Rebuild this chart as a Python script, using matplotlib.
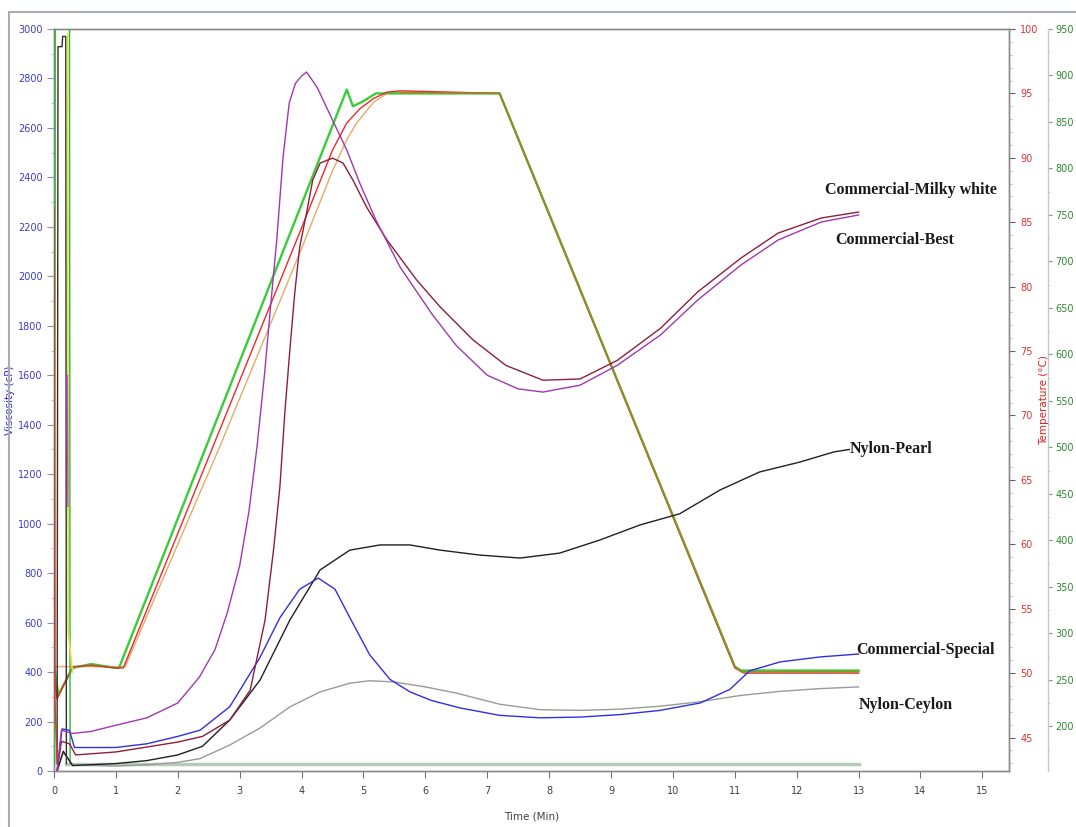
import matplotlib
matplotlib.use("Agg")
import matplotlib.pyplot as plt
from matplotlib.ticker import MultipleLocator
from matplotlib.lines import Line2D
from matplotlib import font_manager

# ---------------- data (time in min) ----------------
# Viscosity (cP)
best_t = [0.05, 0.12, 0.3, 0.6, 1.0, 1.5, 2.0, 2.35, 2.6, 2.8, 3.0, 3.15, 3.28, 3.4, 3.5, 3.6, 3.7, 3.8,
          3.9, 4.0, 4.08, 4.25, 4.5, 4.73, 4.94, 5.2, 5.59, 6.1, 6.5, 7.0, 7.5, 7.9, 8.5, 9.1, 9.8, 10.4,
          11.1, 11.7, 12.4, 13.0]
best_v = [0, 165, 152, 160, 185, 215, 275, 380, 490, 640, 830, 1050, 1311, 1600, 1880, 2150, 2480, 2700,
          2780, 2810, 2826, 2765, 2632, 2511, 2377, 2228, 2038, 1850, 1720, 1600, 1545, 1532, 1560, 1640,
          1763, 1904, 2046, 2147, 2220, 2248]

milky_t = [0.05, 0.12, 0.25, 0.35, 1.0, 1.5, 2.0, 2.4, 2.84, 3.17, 3.41, 3.55, 3.65, 3.73, 3.81, 3.89,
           3.97, 4.08, 4.18, 4.3, 4.5, 4.67, 4.83, 5.05, 5.38, 5.86, 6.24, 6.77, 7.3, 7.9, 8.5, 9.1, 9.8,
           10.4, 11.1, 11.7, 12.4, 13.0]
milky_v = [0, 120, 110, 65, 77, 97, 117, 140, 206, 327, 610, 900, 1150, 1450, 1700, 1933, 2119, 2256,
           2389, 2458, 2478, 2458, 2389, 2280, 2147, 1985, 1876, 1743, 1640, 1580, 1585, 1660, 1790, 1937,
           2074, 2175, 2236, 2260]

pearl_t = [0.05, 0.15, 0.3, 1.0, 1.5, 2.0, 2.4, 2.84, 3.33, 3.81, 4.3, 4.78, 5.27, 5.75, 6.24, 6.88, 7.53,
           8.17, 8.82, 9.47, 10.11, 10.76, 11.4, 12.05, 12.6, 12.85]
pearl_v = [0, 80, 22, 30, 42, 65, 100, 206, 368, 610, 813, 893, 914, 914, 893, 873, 861, 881, 934, 995,
           1040, 1136, 1209, 1249, 1290, 1300]

special_t = [0.05, 0.13, 0.25, 0.33, 1.0, 1.5, 2.0, 2.36, 2.84, 3.33, 3.65, 3.97, 4.27, 4.54, 4.78, 5.1,
             5.43, 5.75, 6.1, 6.56, 7.2, 7.85, 8.5, 9.14, 9.79, 10.44, 10.92, 11.24, 11.73, 12.37, 13.0]
special_v = [0, 170, 165, 95, 95, 110, 140, 165, 260, 460, 620, 735, 780, 735, 620, 470, 370, 320, 285,
             255, 225, 215, 218, 228, 245, 275, 330, 405, 441, 461, 473]

ceylon_t = [0.05, 0.15, 0.3, 1.0, 1.5, 2.0, 2.36, 2.84, 3.33, 3.81, 4.3, 4.78, 5.1, 5.5, 6.0, 6.5, 7.2,
            7.85, 8.5, 9.14, 9.79, 10.44, 11.08, 11.73, 12.37, 13.0]
ceylon_v = [0, 75, 25, 20, 25, 35, 50, 105, 174, 259, 320, 355, 365, 360, 340, 315, 270, 248, 245, 250,
            262, 280, 305, 322, 333, 340]

# start-up spikes (cP)
spike_red_t = [0.0, 0.015, 0.06]
spike_red_v = [2280, 280, 0]
spike_yel_t = [0.22, 0.23, 0.3]
spike_yel_v = [2980, 560, 400]
spike_pink_t = [0.215, 0.225]
spike_pink_v = [1600, 1070]

# Temperature (deg C)
tgreen_t = [0.0, 0.07, 0.3, 0.6, 1.0, 1.05, 4.73, 4.83, 5.0, 5.2, 7.2, 11.0, 11.1, 13.0]
tgreen_v = [50.6, 48.3, 50.4, 50.7, 50.4, 50.4, 95.3, 94.0, 94.4, 95.0, 95.0, 50.5, 50.2, 50.2]
tred_t = [0.0, 0.05, 0.3, 0.6, 1.0, 1.12, 2.57, 3.97, 4.5, 4.73, 4.94, 5.16, 5.38, 5.6, 7.2, 11.0, 11.15, 13.0]
tred_v = [50.0, 48.0, 50.5, 50.6, 50.4, 50.4, 67.6, 84.2, 90.6, 92.7, 93.8, 94.6, 95.1, 95.2, 95.0, 50.4, 50.0, 50.0]
torange_t = [0.0, 0.3, 1.0, 1.15, 2.68, 3.97, 4.5, 4.73, 4.89, 5.16, 5.38, 5.6, 7.2]
torange_v = [50.5, 50.5, 50.5, 50.5, 67.6, 82.6, 89.0, 91.4, 92.7, 94.3, 95.0, 95.1, 95.0]
tolive_t = [5.6, 7.2, 11.0, 11.1, 13.0]
tolive_v = [95.05, 95.0, 50.5, 50.1, 50.1]

# Speed (rpm)
sp_base_t = [0.2, 13.0]
sp_base_v = [160, 160]
sp_black_t = [0.05, 0.065, 0.13, 0.14, 0.19, 0.2]
sp_black_v = [160, 931, 931, 942, 942, 160]
sp_green_t = [0.01, 0.02, 0.25, 0.26]
sp_green_v = [160, 990, 990, 160]

x_ticks = list(range(0, 16))

# ---------------- fonts ----------------
def pick(names):
    for n in names:
        try:
            font_manager.findfont(n, fallback_to_default=False)
            return n
        except Exception:
            pass
    return "DejaVu Sans"

tick_font = pick(["Liberation Sans Narrow", "DejaVu Sans"])
serif_font = pick(["Liberation Serif", "DejaVu Serif"])

# ---------------- figure ----------------
fig = plt.figure(figsize=(10.76, 8.27), dpi=100)
ax = fig.add_axes([54/1076, 1-771/827, (1009-54)/1076, (771-29)/827])
axT = ax.twinx()
axS = ax.twinx()
axS.spines["right"].set_position(("axes", 1.041))

ax.set_xlim(0, 15.43)
ax.set_ylim(0, 3000)
axT.set_ylim(42.4, 100)
axS.set_ylim(152, 950)

spine_col = "#8a8a8a"
for a in (ax, axT, axS):
    for s in a.spines.values():
        s.set_color(spine_col)
        s.set_linewidth(1.0)
axS.spines["right"].set_color("#c8c8c8")
for s in ("top", "left", "bottom"):
    axS.spines[s].set_visible(False)

# temperature traces
axT.plot(torange_t, torange_v, color="#e8a868", lw=1.0, zorder=2)
axT.plot(tred_t, tred_v, color="#ee2828", lw=1.0, zorder=3)
axT.plot(tgreen_t, tgreen_v, color="#38cc38", lw=1.7, zorder=2)
axT.plot(tolive_t, tolive_v, color="#9c8a2c", lw=1.2, zorder=4)

# speed traces
axS.plot(sp_base_t, sp_base_v, color="#b4ccb4", lw=2.5, zorder=1)
axS.plot(sp_green_t, sp_green_v, color="#2fb82f", lw=1.0, zorder=1)
axS.plot(sp_black_t, sp_black_v, color="#303030", lw=1.0, zorder=1)

# viscosity traces (drawn on top)
axV = ax.twinx()
axV.set_ylim(ax.get_ylim())
axV.axis("off")
axV.plot(spike_red_t, spike_red_v, color="#e03030", lw=1.0)
axV.plot(spike_yel_t, spike_yel_v, color="#e6e040", lw=1.2)
axV.plot(spike_pink_t, spike_pink_v, color="#e040d0", lw=1.0)
axV.plot(ceylon_t, ceylon_v, color="#9a9a9a", lw=1.0)
axV.plot(pearl_t, pearl_v, color="#202020", lw=1.0)
axV.plot(special_t, special_v, color="#3030e0", lw=1.0)
axV.plot(milky_t, milky_v, color="#8e1e3e", lw=1.0)
axV.plot(best_t, best_v, color="#a038b0", lw=1.0)

# ---------------- ticks ----------------
tfs = 7
ax.set_xticks(x_ticks)
ax.tick_params(axis="x", direction="out", length=5, width=0.8, color="#707070",
               labelsize=tfs, labelcolor="#404040", pad=6)
ax.yaxis.set_major_locator(MultipleLocator(200))
ax.yaxis.set_minor_locator(MultipleLocator(100))
ax.tick_params(axis="y", which="major", direction="out", length=5, width=0.8, color="#9090c0",
               labelsize=tfs, labelcolor="#3c3cc8", pad=3)
ax.tick_params(axis="y", which="minor", direction="out", length=2.5, width=0.6, color="#b0b0d0")

axT.yaxis.set_major_locator(MultipleLocator(5))
axT.yaxis.set_minor_locator(MultipleLocator(1))
axT.tick_params(axis="y", which="major", direction="out", length=4, width=0.8, color="#606060",
                labelsize=tfs, labelcolor="#e03030", pad=4)
axT.tick_params(axis="y", which="minor", direction="out", length=2, width=0.6, color="#b0b0b0")

axS.yaxis.set_major_locator(MultipleLocator(50))
axS.yaxis.set_minor_locator(MultipleLocator(25))
axS.tick_params(axis="y", which="major", direction="out", length=3, width=0.8, color="#70a070",
                labelsize=tfs, labelcolor="#2e8b2e", pad=2)
axS.tick_params(axis="y", which="minor", direction="out", length=1.5, width=0.6, color="#c0d0c0")

for a in (ax, axT, axS):
    for lab in a.get_xticklabels() + a.get_yticklabels():
        lab.set_fontfamily(tick_font)

# ---------------- axis labels ----------------
ax.set_ylabel("Viscosity (cP)", color="#3030d0", fontsize=7.5, fontfamily=tick_font)
ax.yaxis.set_label_coords(-0.041, 0.5)
axT.set_ylabel("Temperature (°C)", color="#e02020", fontsize=7.5, fontfamily=tick_font)
axT.yaxis.set_label_coords(1.031, 0.5)
ax.set_xlabel("Time (Min)", color="#404040", fontsize=7.5, fontfamily=tick_font)
ax.xaxis.set_label_coords(0.5, -0.055)

# ---------------- annotations ----------------
lab_style = dict(fontfamily=serif_font, fontweight="bold", fontsize=11.5, color="#1a1a1a",
                 ha="left", va="center", zorder=10)
axV.text(12.46, 2349, "Commercial-Milky white", **lab_style)
axV.text(12.63, 2147, "Commercial-Best", **lab_style)
axV.text(12.85, 1300, "Nylon-Pearl", **lab_style)
axV.text(12.97, 489, "Commercial-Special", **lab_style)
axV.text(13.0, 267, "Nylon-Ceylon", **lab_style)

# outer frame lines
fig.add_artist(Line2D([9/1076, 1.0], [1-12/827, 1-12/827], transform=fig.transFigure,
                      color="#a8adb5", lw=1.5))
fig.add_artist(Line2D([9/1076, 9/1076], [0.0, 1-12/827], transform=fig.transFigure,
                      color="#a8adb5", lw=1.5))

fig.savefig("out.png", dpi=100, facecolor="white")
